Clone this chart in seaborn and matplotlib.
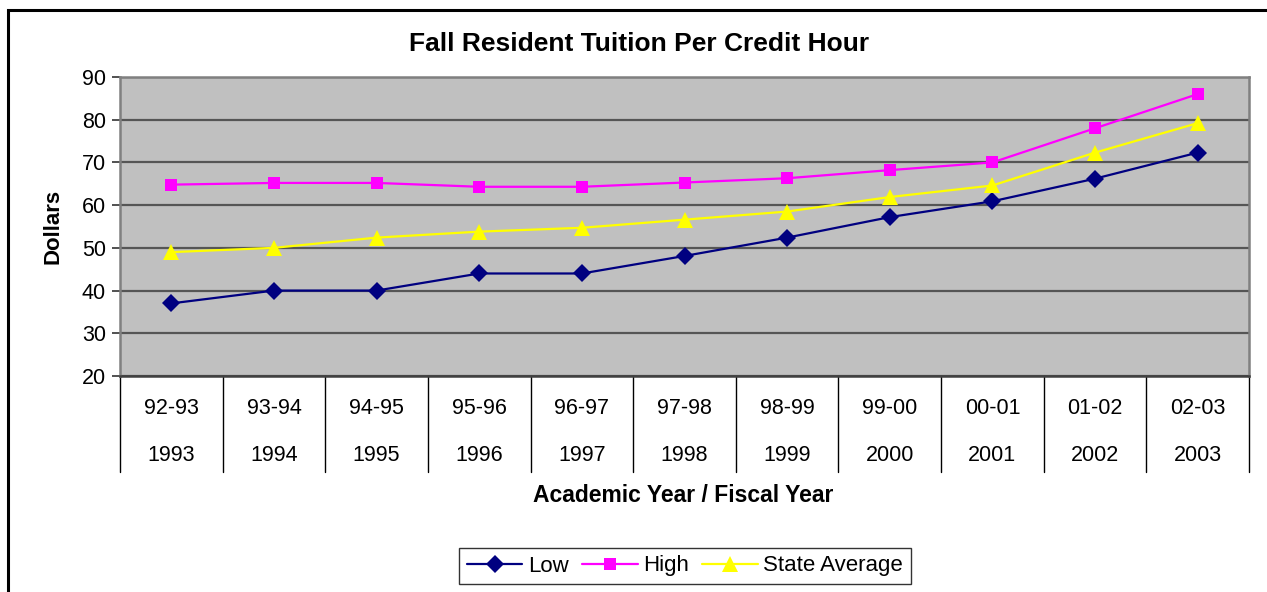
import numpy as np
import pandas as pd
import seaborn as sns
import matplotlib.pyplot as plt
from matplotlib.patches import Rectangle

# valores (dolares por hora de credito)
academic_years = ["92-93", "93-94", "94-95", "95-96", "96-97", "97-98",
                  "98-99", "99-00", "00-01", "01-02", "02-03"]
fiscal_years = ["1993", "1994", "1995", "1996", "1997", "1998",
                "1999", "2000", "2001", "2002", "2003"]
low = [37, 40, 40, 44, 44, 48.1, 52.4, 57.2, 60.9, 66.2, 72.3]
high = [64.8, 65.2, 65.2, 64.3, 64.3, 65.3, 66.3, 68.2, 70, 78, 86]
state_avg = [49, 50, 52.4, 53.8, 54.7, 56.6, 58.5, 61.9, 64.6, 72.3, 79.2]

series_names = ["Low", "High", "State Average"]
colors = {"Low": "#000080", "High": "#FF00FF", "State Average": "#FFFF00"}
markers = {"Low": "D", "High": "s", "State Average": "^"}
msizes = {"Low": 9.5, "High": 8.5, "State Average": 11}

pos = np.arange(len(academic_years))
df = pd.concat([
    pd.DataFrame({"x": pos, "value": vals, "series": name})
    for name, vals in zip(series_names, [low, high, state_avg])
])

sns.set_style("white")
plt.rcParams["font.family"] = ["Liberation Sans", "DejaVu Sans"]
for k in ["text.color", "axes.labelcolor", "xtick.color", "ytick.color"]:
    plt.rcParams[k] = "black"

fig = plt.figure(figsize=(12.67, 5.92), dpi=100)
ax = fig.add_axes([120 / 1267, 1 - 376 / 592, 1129 / 1267, 299 / 592])
ax.set_facecolor("#C0C0C0")

sns.lineplot(data=df, x="x", y="value", hue="series", style="series",
             hue_order=series_names, style_order=series_names,
             palette=colors, markers=markers, dashes=False,
             markersize=9, markeredgewidth=0, linewidth=1.6,
             sort=False, legend=False, ax=ax)
for line, name in zip(ax.lines, series_names):
    line.set_markersize(msizes[name])

ax.set_xlim(-0.5, len(academic_years) - 0.5)
ax.set_ylim(20, 90)
ax.set_yticks(range(20, 91, 10))
ax.yaxis.grid(True, color="#555555", linewidth=1.6)
ax.set_axisbelow(True)
ax.tick_params(axis="y", direction="out", length=6, width=1.2,
               color="#333333", labelsize=15.5, pad=4, left=True)

# etiquetas de dos niveles
ax.set_xticks(pos)
ax.set_xticklabels([f"{a}\n{f}" for a, f in zip(academic_years, fiscal_years)])
for lab in ax.get_xticklabels():
    lab.set_linespacing(2.64)
ax.tick_params(axis="x", length=0, labelsize=15.5, pad=16)

# separadores del eje de categorias
trans = ax.get_xaxis_transform()
for b in np.arange(-0.5, len(academic_years), 1.0):
    ax.plot([b, b], [0, -0.322], transform=trans, color="black",
            linewidth=1.0, clip_on=False)

for side in ["top", "right", "left"]:
    ax.spines[side].set_color("#808080")
    ax.spines[side].set_linewidth(1.8)
ax.spines["bottom"].set_color("#404040")
ax.spines["bottom"].set_linewidth(1.8)

ax.set_xlabel("")
ax.set_ylabel("")
fig.text(53 / 1267, 1 - 226 / 592, "Dollars", rotation=90,
         ha="center", va="center", fontsize=16, fontweight="bold")
fig.text(683 / 1267, 1 - 496 / 592, "Academic Year / Fiscal Year",
         ha="center", va="center", fontsize=16.5, fontweight="bold")
fig.text(639 / 1267, 1 - 44 / 592, "Fall Resident Tuition Per Credit Hour",
         ha="center", va="center", fontsize=19, fontweight="bold")

handles = [plt.Line2D([], [], color=colors[n], marker=markers[n],
                      markersize=msizes[n], markeredgewidth=0, linewidth=1.6)
           for n in series_names]
leg = fig.legend(handles, series_names, loc="center", ncol=3,
                 bbox_to_anchor=(685 / 1267, 1 - 566 / 592),
                 fontsize=16, frameon=True, fancybox=False,
                 handlelength=2.5, handletextpad=0.25, columnspacing=0.6,
                 borderpad=0.35, borderaxespad=0)
leg.get_frame().set_edgecolor("black")
leg.get_frame().set_linewidth(1.0)

# borde del area del grafico
fig.patches.append(Rectangle((8 / 1267, -0.02), 1.05, 1 - 10 / 592 + 0.02,
                             transform=fig.transFigure, fill=False,
                             edgecolor="black", linewidth=2.2))

fig.savefig("out.png", dpi=100)
